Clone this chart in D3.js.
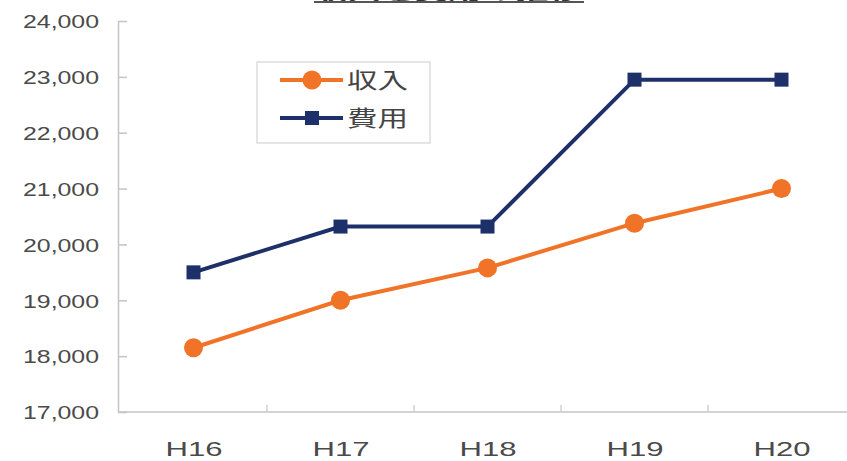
<!DOCTYPE html>
<html>
<head>
<meta charset="utf-8">
<script src="https://cdn.jsdelivr.net/npm/d3@7"></script>
<style>
  body { margin: 0; background: #fff; }
  svg { display: block; font-family: "Liberation Sans", Arial, sans-serif; }
</style>
</head>
<body>
<div class="chart"></div>
<script>
// data
const years = ["H16", "H17", "H18", "H19", "H20"];
const income = [18150, 19000, 19580, 20380, 21000];   // 収入
const costs = [19500, 20320, 20320, 22950, 22950];    // 費用
const yTicks = [17000, 18000, 19000, 20000, 21000, 22000, 23000, 24000];
const seriesNames = ["収入", "費用"];
const title = "収入と費用の推移";

const width = 847, height = 461;
const orange = "#f07328", navy = "#1d3069";

const svg = d3.select(".chart")
  .append("svg")
  .attr("width", width)
  .attr("height", height);

const xScale = d3.scaleBand().domain(years).range([120, 855]).padding(0);
const yScale = d3.scaleLinear().domain([17000, 24000]).range([412, 21]);

// title, mostly cut off at the top of the picture
svg.append("text")
  .attr("x", 448)
  .attr("y", -1)
  .attr("text-anchor", "middle")
  .attr("font-size", "22px")
  .attr("font-weight", "bold")
  .attr("fill", "#333")
  .attr("textLength", 268)
  .attr("lengthAdjust", "spacingAndGlyphs")
  .style("font-family", "'Noto Sans CJK JP', sans-serif")
  .text(title);
svg.append("rect")
  .attr("x", 314).attr("y", 1)
  .attr("width", 270).attr("height", 2)
  .attr("fill", "#555");

// y axis
const yAxis = d3.axisLeft(yScale)
  .tickValues(yTicks)
  .tickSizeInner(-9)
  .tickSizeOuter(0)
  .tickPadding(19)
  .tickFormat(d3.format(","));

const y_axis = svg.append("g")
  .attr("class", "y-axis")
  .attr("transform", "translate(118,0)")
  .call(yAxis);
y_axis.select(".domain").attr("stroke", "#c4c4c4").attr("stroke-width", 1.5);
y_axis.selectAll(".tick line").attr("stroke", "#c4c4c4").attr("stroke-width", 1.5);
y_axis.selectAll(".tick text")
  .attr("font-size", "19px")
  .attr("fill", "#4a4a4a")
  .attr("dy", "0.36em")
  .attr("textLength", 76)
  .attr("lengthAdjust", "spacingAndGlyphs");

// x axis
svg.append("line")
  .attr("x1", 118).attr("x2", width)
  .attr("y1", yScale(17000)).attr("y2", yScale(17000))
  .attr("stroke", "#c4c4c4").attr("stroke-width", 1.5);

svg.selectAll(".x-tick")
  .data(years.slice(1))
  .join("line")
  .attr("class", "x-tick")
  .attr("x1", d => xScale(d)).attr("x2", d => xScale(d))
  .attr("y1", yScale(17000)).attr("y2", yScale(17000) - 7)
  .attr("stroke", "#d0d0d0").attr("stroke-width", 1.5);

svg.selectAll(".x-label")
  .data(years)
  .join("text")
  .attr("class", "x-label")
  .attr("x", d => xScale(d) + xScale.bandwidth() / 2 - 28)
  .attr("y", 456)
  .attr("font-size", "21px")
  .attr("fill", "#4a4a4a")
  .attr("textLength", 57)
  .attr("lengthAdjust", "spacingAndGlyphs")
  .text(d => d);

// lines
const cx = d => xScale(d) + xScale.bandwidth() / 2;
const line = d3.line().x((d, i) => cx(years[i])).y(d => yScale(d));

svg.append("path")
  .datum(costs)
  .attr("fill", "none")
  .attr("stroke", navy)
  .attr("stroke-width", 4)
  .attr("d", line);

svg.append("path")
  .datum(income)
  .attr("fill", "none")
  .attr("stroke", orange)
  .attr("stroke-width", 4)
  .attr("d", line);

svg.selectAll(".cost-pt")
  .data(costs)
  .join("rect")
  .attr("class", "cost-pt")
  .attr("x", (d, i) => cx(years[i]) - 7)
  .attr("y", d => yScale(d) - 7)
  .attr("width", 14).attr("height", 14)
  .attr("fill", navy);

svg.selectAll(".income-pt")
  .data(income)
  .join("circle")
  .attr("class", "income-pt")
  .attr("cx", (d, i) => cx(years[i]))
  .attr("cy", d => yScale(d))
  .attr("r", 9.5)
  .attr("fill", orange);

// legend
const legend = svg.append("g").attr("transform", "translate(257,62)");
legend.append("rect")
  .attr("x", 0).attr("y", 0)
  .attr("width", 173).attr("height", 81)
  .attr("fill", "#fff")
  .attr("stroke", "#d4d4d4").attr("stroke-width", 1.2);

const items = legend.selectAll(".item")
  .data(seriesNames)
  .join("g")
  .attr("class", "item")
  .attr("transform", (d, i) => `translate(0,${18 + i * 38})`);

items.append("line")
  .attr("x1", 23).attr("x2", 86)
  .attr("y1", 0).attr("y2", 0)
  .attr("stroke", (d, i) => i === 0 ? orange : navy)
  .attr("stroke-width", 4);

items.each(function (d, i) {
  const g = d3.select(this);
  if (i === 0) {
    g.append("circle").attr("cx", 55).attr("cy", 0).attr("r", 9.5).attr("fill", orange);
  } else {
    g.append("rect").attr("x", 48).attr("y", -7).attr("width", 14).attr("height", 14).attr("fill", navy);
  }
});

items.append("text")
  .attr("x", 90)
  .attr("y", 0)
  .attr("dy", "0.36em")
  .attr("font-size", "22px")
  .attr("fill", "#444")
  .attr("textLength", 61)
  .attr("lengthAdjust", "spacingAndGlyphs")
  .style("font-family", "'Noto Sans CJK JP', sans-serif")
  .text(d => d);
</script>
</body>
</html>
